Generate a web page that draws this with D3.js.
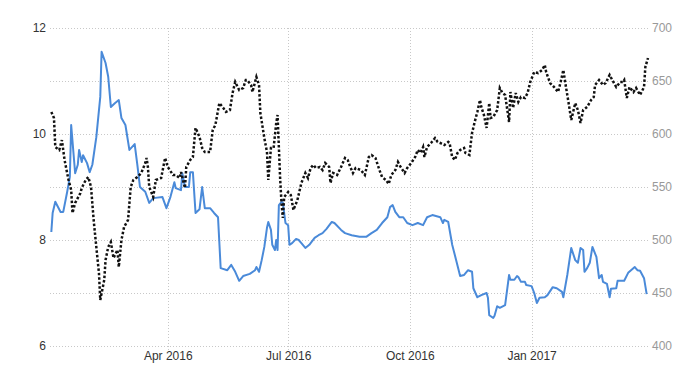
<!DOCTYPE html>
<html>
<head>
<meta charset="utf-8">
<script src="https://cdn.jsdelivr.net/npm/d3@7"></script>
<style>
  body { margin: 0; background: #fff; }
  svg { font-family: "Liberation Sans", Arial, sans-serif; }
</style>
</head>
<body>
<svg id="chart" width="700" height="375"></svg>
<script>
// blue series (left axis)
const blueDates = ["2016-01-04","2016-01-05","2016-01-07","2016-01-11","2016-01-13","2016-01-16","2016-01-18","2016-01-19","2016-01-22","2016-01-24","2016-01-25","2016-01-27","2016-01-28","2016-01-31","2016-02-02","2016-02-04","2016-02-07","2016-02-10","2016-02-11","2016-02-14","2016-02-16","2016-02-18","2016-02-21","2016-02-24","2016-02-26","2016-02-29","2016-03-03","2016-03-07","2016-03-09","2016-03-11","2016-03-15","2016-03-18","2016-03-21","2016-03-28","2016-03-31","2016-04-03","2016-04-06","2016-04-07","2016-04-11","2016-04-12","2016-04-14","2016-04-17","2016-04-18","2016-04-20","2016-04-22","2016-04-25","2016-04-27","2016-04-29","2016-05-03","2016-05-06","2016-05-09","2016-05-11","2016-05-16","2016-05-19","2016-05-22","2016-05-25","2016-05-28","2016-06-02","2016-06-06","2016-06-07","2016-06-09","2016-06-11","2016-06-13","2016-06-15","2016-06-16","2016-06-18","2016-06-19","2016-06-21","2016-06-22","2016-06-23","2016-06-24","2016-06-26","2016-06-27","2016-06-29","2016-07-01","2016-07-02","2016-07-04","2016-07-07","2016-07-09","2016-07-11","2016-07-14","2016-07-17","2016-07-21","2016-07-24","2016-07-27","2016-07-30","2016-08-03","2016-08-05","2016-08-10","2016-08-13","2016-08-18","2016-08-24","2016-08-29","2016-09-02","2016-09-06","2016-09-10","2016-09-14","2016-09-16","2016-09-18","2016-09-20","2016-09-23","2016-09-26","2016-09-29","2016-10-03","2016-10-07","2016-10-11","2016-10-14","2016-10-18","2016-10-24","2016-10-26","2016-10-27","2016-10-30","2016-11-02","2016-11-05","2016-11-08","2016-11-11","2016-11-14","2016-11-17","2016-11-18","2016-11-21","2016-11-24","2016-11-28","2016-11-29","2016-11-30","2016-12-03","2016-12-04","2016-12-06","2016-12-08","2016-12-12","2016-12-15","2016-12-16","2016-12-19","2016-12-21","2016-12-22","2016-12-24","2016-12-27","2016-12-28","2017-01-01","2017-01-03","2017-01-05","2017-01-07","2017-01-11","2017-01-13","2017-01-17","2017-01-20","2017-01-24","2017-01-25","2017-01-28","2017-01-31","2017-02-03","2017-02-05","2017-02-07","2017-02-09","2017-02-10","2017-02-12","2017-02-14","2017-02-16","2017-02-19","2017-02-21","2017-02-23","2017-02-24","2017-02-27","2017-03-01","2017-03-02","2017-03-06","2017-03-07","2017-03-12","2017-03-15","2017-03-20","2017-03-22","2017-03-24","2017-03-27","2017-03-29"];
const blueValues = [8.15,8.51,8.72,8.53,8.53,8.91,9.19,10.17,9.26,9.42,9.70,9.47,9.60,9.45,9.28,9.42,9.94,10.70,11.55,11.34,11.08,10.51,10.58,10.64,10.30,10.17,9.70,9.81,9.42,9.00,8.91,8.70,8.79,8.81,8.60,8.81,9.09,8.98,8.94,9.26,9.00,9.00,9.28,9.28,8.51,8.58,9.00,8.60,8.60,8.51,8.43,7.47,7.43,7.53,7.40,7.23,7.32,7.36,7.43,7.49,7.40,7.62,7.87,8.23,8.34,8.19,7.91,7.81,8.00,7.81,8.66,8.72,8.70,8.32,8.28,7.91,7.94,8.02,8.00,7.94,7.85,7.91,8.04,8.09,8.13,8.21,8.34,8.32,8.19,8.13,8.09,8.06,8.06,8.13,8.19,8.32,8.43,8.62,8.66,8.53,8.43,8.43,8.32,8.28,8.32,8.28,8.43,8.47,8.43,8.32,8.38,8.34,7.91,7.62,7.32,7.34,7.43,7.40,7.09,6.92,6.96,7.00,6.91,6.58,6.53,6.57,6.75,6.72,6.77,7.34,7.25,7.25,7.32,7.30,7.21,7.21,7.15,7.13,7.00,6.81,6.91,6.92,6.96,7.11,7.09,7.02,6.92,7.34,7.85,7.62,7.57,7.85,7.81,7.40,7.47,7.57,7.87,7.68,7.28,7.34,7.21,7.17,6.92,7.08,7.09,7.23,7.23,7.38,7.49,7.43,7.42,7.28,6.98];

// black dotted series (right axis)
const blackDates = ["2016-01-04","2016-01-06","2016-01-07","2016-01-10","2016-01-12","2016-01-14","2016-01-17","2016-01-19","2016-01-20","2016-01-22","2016-01-26","2016-01-27","2016-01-30","2016-02-01","2016-02-03","2016-02-05","2016-02-07","2016-02-09","2016-02-10","2016-02-13","2016-02-14","2016-02-16","2016-02-18","2016-02-20","2016-02-23","2016-02-24","2016-02-26","2016-02-28","2016-03-02","2016-03-04","2016-03-06","2016-03-09","2016-03-12","2016-03-15","2016-03-16","2016-03-17","2016-03-18","2016-03-21","2016-03-23","2016-03-27","2016-03-30","2016-04-01","2016-04-05","2016-04-07","2016-04-10","2016-04-11","2016-04-14","2016-04-15","2016-04-18","2016-04-20","2016-04-22","2016-04-25","2016-04-27","2016-04-29","2016-05-03","2016-05-05","2016-05-07","2016-05-10","2016-05-13","2016-05-15","2016-05-18","2016-05-20","2016-05-22","2016-05-25","2016-05-28","2016-05-30","2016-05-31","2016-06-03","2016-06-04","2016-06-06","2016-06-07","2016-06-09","2016-06-10","2016-06-13","2016-06-15","2016-06-16","2016-06-18","2016-06-20","2016-06-22","2016-06-23","2016-06-25","2016-06-26","2016-06-27","2016-06-28","2016-07-01","2016-07-03","2016-07-05","2016-07-08","2016-07-11","2016-07-14","2016-07-16","2016-07-18","2016-07-20","2016-07-22","2016-07-25","2016-07-27","2016-07-29","2016-08-01","2016-08-02","2016-08-04","2016-08-07","2016-08-10","2016-08-13","2016-08-15","2016-08-17","2016-08-19","2016-08-21","2016-08-25","2016-08-28","2016-08-31","2016-09-02","2016-09-05","2016-09-08","2016-09-10","2016-09-13","2016-09-15","2016-09-17","2016-09-20","2016-09-22","2016-09-24","2016-09-27","2016-09-29","2016-10-02","2016-10-05","2016-10-07","2016-10-09","2016-10-11","2016-10-12","2016-10-14","2016-10-17","2016-10-20","2016-10-22","2016-10-24","2016-10-27","2016-10-30","2016-10-31","2016-11-02","2016-11-04","2016-11-06","2016-11-08","2016-11-11","2016-11-12","2016-11-15","2016-11-17","2016-11-19","2016-11-21","2016-11-23","2016-11-24","2016-11-26","2016-11-28","2016-11-30","2016-12-01","2016-12-03","2016-12-06","2016-12-08","2016-12-10","2016-12-12","2016-12-15","2016-12-16","2016-12-18","2016-12-20","2016-12-22","2016-12-24","2016-12-27","2016-12-29","2016-12-31","2017-01-03","2017-01-06","2017-01-09","2017-01-11","2017-01-12","2017-01-15","2017-01-18","2017-01-21","2017-01-23","2017-01-25","2017-01-27","2017-01-29","2017-01-31","2017-02-03","2017-02-05","2017-02-07","2017-02-09","2017-02-12","2017-02-15","2017-02-17","2017-02-18","2017-02-21","2017-02-24","2017-02-26","2017-03-01","2017-03-03","2017-03-06","2017-03-09","2017-03-11","2017-03-12","2017-03-14","2017-03-16","2017-03-19","2017-03-21","2017-03-24","2017-03-27","2017-03-28","2017-03-30"];
const blackValues = [620.8,615.1,587.7,584.9,594.3,575.5,556.6,547.2,525.5,534.9,544.3,549.1,556.6,559.4,550.0,518.9,493.4,468.9,443.4,462.3,481.1,493.4,498.1,483.0,490.6,474.5,500.0,512.3,518.9,550.0,556.6,559.4,563.2,572.6,577.4,568.9,550.0,540.6,556.6,558.5,577.4,568.9,561.3,561.3,558.5,564.2,549.1,568.9,575.5,578.3,605.7,597.2,586.8,583.0,583.0,603.8,608.5,629.2,624.5,620.8,622.6,638.7,649.1,641.5,643.4,650.9,650.9,646.2,639.6,649.1,653.8,646.2,619.8,596.2,583.0,556.6,586.8,586.8,610.4,617.9,556.6,534.9,520.8,540.6,545.3,542.5,528.3,537.7,553.8,563.2,558.5,567.9,570.8,567.9,568.9,566.0,572.6,568.9,553.8,563.2,561.3,568.9,577.4,575.5,568.9,563.2,567.9,566.0,561.3,578.3,580.2,577.4,566.0,559.4,556.6,552.8,561.3,566.0,573.6,568.9,563.2,567.9,572.6,578.3,584.9,582.1,587.7,578.3,587.7,591.5,596.2,592.5,591.5,589.6,592.5,591.5,578.3,575.5,582.1,584.9,586.8,582.1,580.2,600.9,611.3,620.8,632.1,625.5,617.9,605.7,629.2,615.1,616.0,622.6,643.4,638.7,636.8,611.3,639.6,624.5,638.7,630.2,634.9,634.0,638.7,649.1,658.5,657.5,660.4,665.1,658.5,648.1,644.3,639.6,649.1,660.4,644.3,629.2,613.2,629.2,622.6,610.4,622.6,625.5,632.1,634.9,646.2,650.9,646.2,648.1,655.7,650.9,644.3,649.1,649.1,650.9,634.0,644.3,639.6,643.4,636.8,644.3,663.2,671.7];

const leftTicks = [6, 7, 8, 9, 10, 11, 12];
const leftLabels = [6, 8, 10, 12];
const rightTicks = [400, 450, 500, 550, 600, 650, 700];
const xTickDates = ["2016-04-01", "2016-07-01", "2016-10-01", "2017-01-01"];
const xTickLabels = ["Apr 2016", "Jul 2016", "Oct 2016", "Jan 2017"];

const parse = d3.timeParse("%Y-%m-%d");
const blue = blueDates.map((d, i) => ({ date: parse(d), value: blueValues[i] }));
const black = blackDates.map((d, i) => ({ date: parse(d), value: blackValues[i] }));

const margin = { left: 50, right: 648, top: 28, bottom: 346 };

const x = d3.scaleTime()
  .domain([parse("2016-01-03"), parse("2017-03-30")])
  .range([margin.left, margin.right]);
const yLeft = d3.scaleLinear().domain([6, 12]).range([margin.bottom, margin.top]);
const yRight = d3.scaleLinear().domain([400, 700]).range([margin.bottom, margin.top]);

const svg = d3.select("#chart");

// grid lines
svg.append("g")
  .selectAll("line")
  .data(leftTicks)
  .enter().append("line")
  .attr("x1", margin.left).attr("x2", margin.right)
  .attr("y1", d => Math.round(yLeft(d)) + 0.5).attr("y2", d => Math.round(yLeft(d)) + 0.5)
  .style("stroke", "#c8c8c8")
  .style("stroke-width", 1)
  .style("stroke-dasharray", "1 2");

svg.append("g")
  .selectAll("line")
  .data(xTickDates)
  .enter().append("line")
  .attr("x1", d => Math.round(x(parse(d))) + 0.5).attr("x2", d => Math.round(x(parse(d))) + 0.5)
  .attr("y1", margin.top).attr("y2", margin.bottom + 4)
  .style("stroke", "#c8c8c8")
  .style("stroke-width", 1)
  .style("stroke-dasharray", "1 2");

// left axis
const leftAxis = d3.axisLeft(yLeft).tickValues(leftLabels).tickFormat(d3.format("d")).tickSize(0).tickPadding(4);
svg.append("g")
  .attr("transform", `translate(${margin.left},0)`)
  .call(leftAxis)
  .call(g => g.select(".domain").remove())
  .selectAll("text")
  .style("font-size", "12px")
  .style("fill", "#333");

// right axis
const rightAxis = d3.axisRight(yRight).tickValues(rightTicks).tickSize(0).tickPadding(4);
svg.append("g")
  .attr("transform", `translate(${margin.right},0)`)
  .call(rightAxis)
  .call(g => g.select(".domain").remove())
  .selectAll("text")
  .style("font-size", "12px")
  .style("fill", "#999");

// x axis
const xAxis = d3.axisBottom(x)
  .tickValues(xTickDates.map(parse))
  .tickFormat((d, i) => xTickLabels[i])
  .tickSize(0)
  .tickPadding(5);
svg.append("g")
  .attr("transform", `translate(0,${margin.bottom})`)
  .call(xAxis)
  .call(g => g.select(".domain").remove())
  .selectAll("text")
  .style("font-size", "12px")
  .style("fill", "#333");

// lines
const blueLine = d3.line().x(d => x(d.date)).y(d => yLeft(d.value));
const blackLine = d3.line().x(d => x(d.date)).y(d => yRight(d.value));

svg.append("path")
  .datum(blue)
  .attr("d", blueLine)
  .style("fill", "none")
  .style("stroke", "#4a8ad9")
  .style("stroke-width", 2)
  .style("stroke-linejoin", "round");

svg.append("path")
  .datum(black)
  .attr("d", blackLine)
  .style("fill", "none")
  .style("stroke", "#111")
  .style("stroke-width", 2.5)
  .style("stroke-dasharray", "2.5 2");
</script>
</body>
</html>
